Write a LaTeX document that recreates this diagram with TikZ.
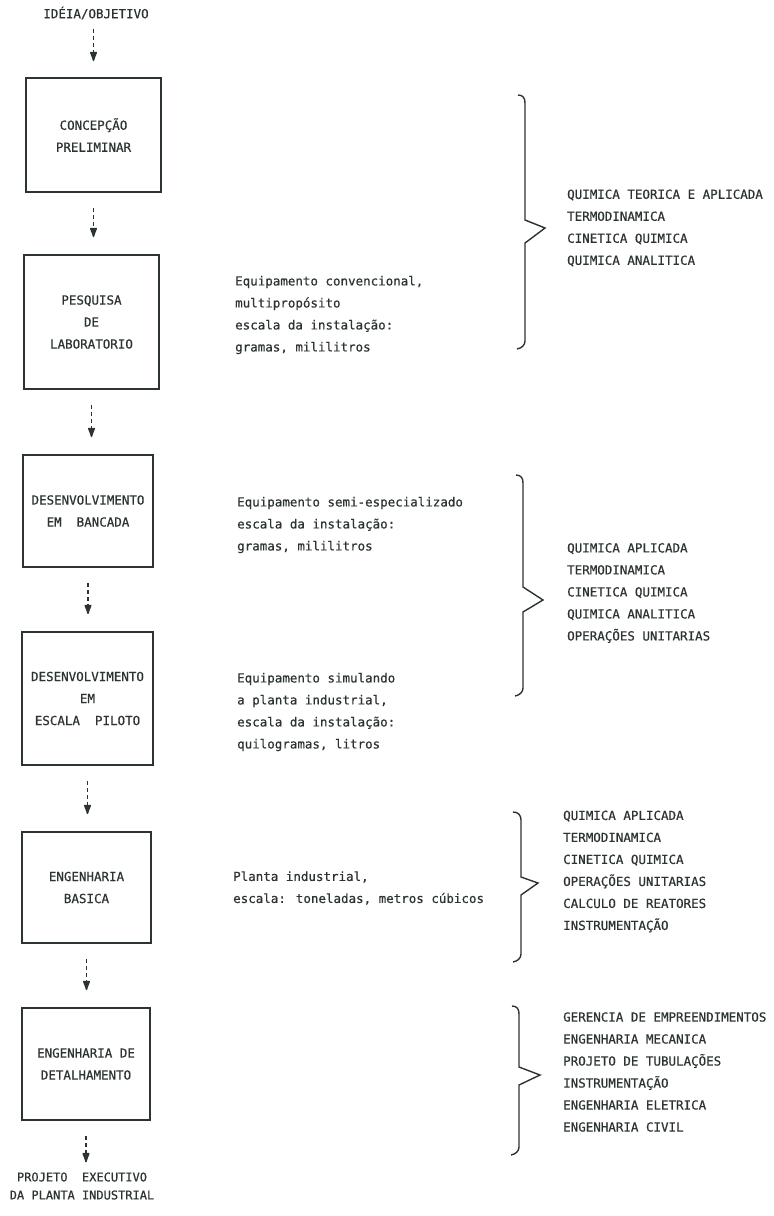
\documentclass[tikz,border=0pt]{standalone}
\usepackage{fontspec}
\newfontfamily\dmono{DejaVu Sans Mono}[FakeBold=0.6]
\usetikzlibrary{arrows.meta}
\definecolor{ink}{RGB}{44,52,46}
\begin{document}
\begin{tikzpicture}[x=1pt,y=-1pt,
  every node/.style={font=\dmono\fontsize{12.5}{22}\selectfont, text=ink, inner sep=0pt},
  stagebox/.style={draw=ink, line width=1.8pt, align=center},
  flow/.style={draw=ink, line width=1.5pt, dash pattern=on 4pt off 3pt,
    -{Latex[length=12pt,width=8pt,round]}, shorten <=15pt, shorten >=17pt},
  bracepath/.style={draw=ink, line width=1.4pt, line join=miter},
  notes/.style={align=left, anchor=west},
]
\useasboundingbox (0,0) rectangle (774,1216);

% flow column
\node (idea) at (96,13) {IDÉIA/OBJETIVO};
\node[stagebox, minimum width=135pt, minimum height=114pt] (b1) at (93.5,135) {CONCEPÇÃO\\PRELIMINAR};
\node[stagebox, minimum width=135pt, minimum height=134pt] (b2) at (91.5,322) {PESQUISA\\DE\\LABORATORIO};
\node[stagebox, minimum width=130pt, minimum height=112pt] (b3) at (88,511) {DESENVOLVIMENTO\\EM~~BANCADA};
\node[stagebox, minimum width=131pt, minimum height=133pt] (b4) at (87.5,698.5) {DESENVOLVIMENTO\\EM\\ESCALA~~PILOTO};
\node[stagebox, minimum width=129pt, minimum height=111pt] (b5) at (86.5,887.5) {ENGENHARIA\\BASICA};
\node[stagebox, minimum width=128pt, minimum height=112pt] (b6) at (86,1064) {ENGENHARIA DE\\DETALHAMENTO};
\node[align=center, font=\dmono\fontsize{12}{18}\selectfont] (fim) at (82,1186) {PROJETO~~EXECUTIVO\\DA PLANTA INDUSTRIAL};

\draw[flow, shorten <=9pt, shorten >=16pt] (b1.north |- idea.south) -- (b1.north);
\draw[flow] (b1.south) -- (b1.south |- b2.north);
\draw[flow] (b2.south) -- (b2.south |- b3.north);
\draw[flow] (b3.south) -- (b3.south |- b4.north);
\draw[flow] (b4.south) -- (b4.south |- b5.north);
\draw[flow] (b5.south) -- (b5.south |- b6.north);
\draw[flow, shorten >=10pt] (b6.south) -- (b6.south |- fim.north);

% middle notes
\node[notes] (n1) at (235,315) {Equipamento convencional,\\multipropósito\\escala da instalação:\\gramas, mililitros};
\node[notes] (n2) at (237,525) {Equipamento semi-especializado\\escala da instalação:\\gramas, mililitros};
\node[notes] (n3) at (237,712) {Equipamento simulando\\a planta industrial,\\escala da instalação:\\quilogramas, litros};
\node[notes] (n4) at (233,888) {Planta industrial,\\escala: toneladas, metros cúbicos};

% braces
\draw[bracepath] (518,95) .. controls (523,95) and (525,98) .. (525,103) -- (525,220) -- (545,228) -- (525,243) -- (525,341) .. controls (525,345) and (522,348) .. (517,349);
\draw[bracepath] (516,475) .. controls (521,475) and (523,478) .. (523,483) -- (523,587) -- (543,600) -- (523,612) -- (523,688) .. controls (523,692) and (520,695) .. (515,696);
\draw[bracepath] (513,812) .. controls (518,812) and (521,815) .. (521,820) -- (521,877) -- (538,883) -- (521,895) -- (521,954) .. controls (521,958) and (518,961) .. (513,962);
\draw[bracepath] (512,1006) .. controls (517,1006) and (519,1009) .. (519,1014) -- (519,1067) -- (540,1075) -- (519,1085) -- (519,1147) .. controls (519,1151) and (516,1154) .. (511,1155);

% brace notes
\node[notes] (k1) at (567,228) {QUIMICA TEORICA E APLICADA\\TERMODINAMICA\\CINETICA QUIMICA\\QUIMICA ANALITICA};
\node[notes] (k2) at (567,593) {QUIMICA APLICADA\\TERMODINAMICA\\CINETICA QUIMICA\\QUIMICA ANALITICA\\OPERAÇÕES UNITARIAS};
\node[notes] (k3) at (563,871.5) {QUIMICA APLICADA\\TERMODINAMICA\\CINETICA QUIMICA\\OPERAÇÕES UNITARIAS\\CALCULO DE REATORES\\INSTRUMENTAÇÃO};
\node[notes] (k4) at (563,1072) {GERENCIA DE EMPREENDIMENTOS\\ENGENHARIA MECANICA\\PROJETO DE TUBULAÇÕES\\INSTRUMENTAÇÃO\\ENGENHARIA ELETRICA\\ENGENHARIA CIVIL};
\end{tikzpicture}
\end{document}
